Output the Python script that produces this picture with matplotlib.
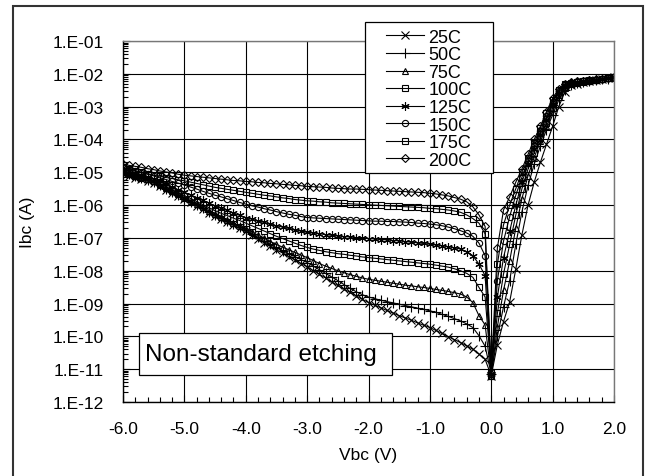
import numpy as np
import matplotlib
matplotlib.use("Agg")
import matplotlib.pyplot as plt
from matplotlib.patches import Rectangle
from matplotlib.ticker import MultipleLocator, FuncFormatter, LogLocator, NullFormatter

plt.rcParams['font.family'] = ['Liberation Sans', 'DejaVu Sans']

# voltage sweep, 0.1 V steps
vbc = np.round(np.arange(-60, 21) / 10.0, 1)

# log10(Ibc), V = -6.0 ... 2.0
log_25 = [-5.05, -5.11, -5.16, -5.22, -5.27, -5.33, -5.43, -5.53, -5.62, -5.72,
          -5.82, -5.92, -6.02, -6.13, -6.23, -6.33, -6.42, -6.52, -6.61, -6.71,
          -6.80, -6.91, -7.02, -7.14, -7.25, -7.36, -7.46, -7.57, -7.67, -7.78,
          -7.88, -8.00, -8.11, -8.22, -8.34, -8.45, -8.56, -8.66, -8.77, -8.87,
          -8.97, -9.05, -9.13, -9.21, -9.29, -9.37, -9.44, -9.51, -9.59, -9.66,
          -9.73, -9.82, -9.91, -10.01, -10.10, -10.19, -10.29, -10.39, -10.54, -10.70,
          -11.20,
          -10.25, -9.55, -8.95, -7.95, -6.90, -6.00, -5.30, -4.70, -4.15, -3.60,
          -3.00, -2.55, -2.35, -2.30, -2.26, -2.22, -2.19, -2.16, -2.14, -2.10]
log_50 = [-5.00, -5.06, -5.12, -5.18, -5.24, -5.30, -5.40, -5.50, -5.60, -5.70,
          -5.80, -5.90, -6.00, -6.10, -6.20, -6.30, -6.39, -6.48, -6.58, -6.67,
          -6.76, -6.87, -6.98, -7.08, -7.19, -7.30, -7.39, -7.48, -7.57, -7.66,
          -7.75, -7.86, -7.97, -8.08, -8.19, -8.30, -8.42, -8.54, -8.64, -8.73,
          -8.80, -8.85, -8.90, -8.94, -8.98, -9.02, -9.06, -9.10, -9.14, -9.18,
          -9.22, -9.27, -9.33, -9.39, -9.46, -9.53, -9.62, -9.73, -9.98, -10.30,
          -11.15,
          -10.00, -9.10, -8.30, -7.20, -6.20, -5.40, -4.75, -4.20, -3.70, -3.25,
          -2.80, -2.48, -2.33, -2.28, -2.25, -2.22, -2.19, -2.17, -2.15, -2.12]
log_75 = [-4.98, -5.04, -5.10, -5.16, -5.22, -5.28, -5.38, -5.48, -5.58, -5.67,
          -5.77, -5.87, -5.97, -6.07, -6.17, -6.27, -6.36, -6.45, -6.55, -6.64,
          -6.73, -6.82, -6.92, -7.01, -7.11, -7.20, -7.28, -7.36, -7.44, -7.52,
          -7.60, -7.69, -7.78, -7.86, -7.93, -8.00, -8.06, -8.12, -8.17, -8.22,
          -8.26, -8.29, -8.32, -8.35, -8.38, -8.41, -8.44, -8.46, -8.49, -8.51,
          -8.54, -8.57, -8.60, -8.63, -8.67, -8.71, -8.80, -8.97, -9.37, -9.65,
          -11.20,
          -9.70, -8.60, -7.70, -6.70, -5.80, -5.10, -4.55, -4.05, -3.60, -3.15,
          -2.72, -2.44, -2.31, -2.27, -2.24, -2.21, -2.19, -2.17, -2.14, -2.12]
log_100 = [-4.95, -5.01, -5.07, -5.13, -5.20, -5.26, -5.35, -5.44, -5.53, -5.62,
           -5.71, -5.80, -5.89, -5.99, -6.08, -6.17, -6.25, -6.32, -6.40, -6.47,
           -6.55, -6.63, -6.71, -6.79, -6.87, -6.95, -7.02, -7.09, -7.16, -7.23,
           -7.29, -7.34, -7.38, -7.42, -7.45, -7.48, -7.50, -7.53, -7.55, -7.58,
           -7.60, -7.62, -7.64, -7.66, -7.68, -7.70, -7.72, -7.74, -7.76, -7.78,
           -7.80, -7.83, -7.86, -7.89, -7.94, -8.00, -8.08, -8.20, -8.51, -8.80,
           -11.10,
           -9.30, -8.10, -7.20, -6.30, -5.50, -4.90, -4.40, -3.95, -3.50, -3.05,
           -2.65, -2.40, -2.30, -2.26, -2.23, -2.21, -2.19, -2.16, -2.14, -2.11]
log_125 = [-4.92, -4.97, -5.03, -5.09, -5.14, -5.20, -5.28, -5.36, -5.45, -5.53,
           -5.61, -5.69, -5.77, -5.86, -5.94, -6.02, -6.09, -6.16, -6.24, -6.31,
           -6.38, -6.43, -6.48, -6.53, -6.58, -6.63, -6.67, -6.71, -6.75, -6.79,
           -6.83, -6.85, -6.87, -6.90, -6.92, -6.94, -6.96, -6.97, -6.99, -7.00,
           -7.02, -7.03, -7.05, -7.06, -7.08, -7.09, -7.11, -7.13, -7.15, -7.17,
           -7.19, -7.21, -7.24, -7.27, -7.30, -7.34, -7.42, -7.54, -7.80, -8.15,
           -11.15,
           -8.80, -7.60, -6.80, -6.00, -5.30, -4.75, -4.30, -3.85, -3.40, -2.95,
           -2.58, -2.36, -2.29, -2.25, -2.23, -2.21, -2.18, -2.16, -2.14, -2.11]
log_150 = [-4.88, -4.92, -4.97, -5.02, -5.06, -5.11, -5.17, -5.22, -5.28, -5.33,
           -5.39, -5.45, -5.51, -5.58, -5.64, -5.70, -5.75, -5.81, -5.86, -5.92,
           -5.97, -6.02, -6.06, -6.11, -6.15, -6.20, -6.24, -6.28, -6.31, -6.35,
           -6.38, -6.39, -6.40, -6.41, -6.42, -6.43, -6.44, -6.45, -6.46, -6.47,
           -6.48, -6.49, -6.49, -6.50, -6.50, -6.51, -6.52, -6.53, -6.55, -6.56,
           -6.58, -6.60, -6.63, -6.67, -6.72, -6.78, -6.85, -6.95, -7.16, -7.54,
           -11.10,
           -8.30, -7.10, -6.35, -5.70, -5.15, -4.65, -4.20, -3.75, -3.30, -2.85,
           -2.52, -2.34, -2.28, -2.25, -2.22, -2.20, -2.18, -2.16, -2.13, -2.11]
log_175 = [-4.85, -4.90, -4.95, -5.00, -5.05, -5.09, -5.12, -5.16, -5.19, -5.23,
           -5.26, -5.30, -5.34, -5.38, -5.42, -5.46, -5.49, -5.52, -5.55, -5.58,
           -5.61, -5.64, -5.67, -5.70, -5.72, -5.75, -5.78, -5.80, -5.83, -5.85,
           -5.87, -5.88, -5.90, -5.91, -5.93, -5.94, -5.95, -5.96, -5.97, -5.98,
           -5.99, -6.00, -6.01, -6.02, -6.03, -6.04, -6.05, -6.06, -6.07, -6.08,
           -6.10, -6.11, -6.13, -6.15, -6.18, -6.22, -6.30, -6.41, -6.55, -6.88,
           -11.20,
           -7.80, -6.60, -6.00, -5.50, -5.00, -4.55, -4.10, -3.65, -3.20, -2.80,
           -2.50, -2.32, -2.27, -2.24, -2.22, -2.20, -2.18, -2.15, -2.13, -2.10]
log_200 = [-4.75, -4.79, -4.82, -4.85, -4.89, -4.92, -4.96, -4.99, -5.02, -5.06,
           -5.09, -5.11, -5.13, -5.15, -5.17, -5.19, -5.21, -5.23, -5.25, -5.26,
           -5.28, -5.29, -5.31, -5.32, -5.34, -5.35, -5.37, -5.38, -5.40, -5.41,
           -5.43, -5.44, -5.45, -5.46, -5.48, -5.49, -5.50, -5.51, -5.51, -5.52,
           -5.53, -5.54, -5.55, -5.56, -5.57, -5.58, -5.59, -5.60, -5.61, -5.62,
           -5.64, -5.66, -5.69, -5.72, -5.77, -5.82, -5.90, -6.05, -6.30, -6.65,
           -11.15,
           -7.30, -6.15, -5.75, -5.30, -4.90, -4.45, -4.00, -3.60, -3.15, -2.75,
           -2.45, -2.30, -2.26, -2.23, -2.21, -2.19, -2.17, -2.15, -2.13, -2.10]

labels = ["25C", "50C", "75C", "100C", "125C", "150C", "175C", "200C"]
series = [log_25, log_50, log_75, log_100, log_125, log_150, log_175, log_200]
markers = ["x", "+", "^", "s", (6, 2, 0), "o", "s", "D"]
msizes = [5.5, 6.5, 5, 4.5, 6, 4.5, 4.5, 4.5]

W, H = 645, 477
fig = plt.figure(figsize=(W / 100, H / 100), dpi=100)

def fx(px):
    return px / W

def fy(py):
    return 1 - py / H

ax = fig.add_axes([fx(123), fy(403), fx(614) - fx(123), fy(42) - fy(403)])

lines = []
for lab, logi, mk, ms in zip(labels, series, markers, msizes):
    ln, = ax.plot(vbc, 10 ** np.array(logi), color='black', lw=0.8,
                  marker=mk, ms=ms, mfc='none', mec='black', mew=0.8, label=lab)
    lines.append(ln)

ax.set_yscale('log')
ax.set_xlim(-6, 2)
ax.set_ylim(1e-12, 1e-1)
ax.yaxis.set_major_locator(LogLocator(base=10, numticks=20))
ax.yaxis.set_minor_locator(LogLocator(base=10, subs=np.arange(2, 10), numticks=200))
ax.yaxis.set_minor_formatter(NullFormatter())
ax.yaxis.set_major_formatter(FuncFormatter(lambda v, p: "1.E%+03d" % int(round(np.log10(v)))))
ax.xaxis.set_major_locator(MultipleLocator(1.0))
ax.xaxis.set_minor_locator(MultipleLocator(0.2))
ax.xaxis.set_major_formatter(FuncFormatter(lambda v, p: "%.1f" % v))

ax.grid(True, which='major', color='black', lw=0.8)
ax.tick_params(which='both', direction='in', top=False, right=False, labelsize=12.5)
ax.tick_params(which='major', length=5, width=0.8)
ax.tick_params(which='minor', length=3.5, width=0.8)
ax.tick_params(axis='y', pad=14)
ax.tick_params(axis='x', pad=14)
for s in ax.spines.values():
    s.set_linewidth(1.0)
ax.spines['top'].set_color('#777777')
ax.spines['right'].set_color('#777777')

ax.set_xlabel("Vbc (V)", fontsize=12.5)
ax.xaxis.set_label_coords(0.5, (fy(448) - fy(403)) / (fy(42) - fy(403)))
ax.set_ylabel("Ibc (A)", fontsize=12.5)
ax.yaxis.set_label_coords((fx(35) - fx(123)) / (fx(614) - fx(123)), 0.5)

# outer chart border
fig.add_artist(Rectangle((fx(13), fy(490)), fx(643) - fx(13), fy(7) - fy(490),
                         transform=fig.transFigure, fill=False, ec='#333333', lw=1.5,
                         clip_on=False, zorder=1))

# legend box
fig.add_artist(Rectangle((fx(365), fy(174)), fx(493) - fx(365), fy(23) - fy(174),
                         transform=fig.transFigure, fc='white', ec='black', lw=0.9, zorder=4))
fig.legend(handles=lines, loc='upper left', bbox_to_anchor=(fx(384), fy(28)),
           frameon=False, fontsize=13, handlelength=2.1, handletextpad=0.25,
           labelspacing=0.03, borderpad=0.1, borderaxespad=0)

# annotation box
fig.add_artist(Rectangle((fx(139), fy(376)), fx(392) - fx(139), fy(334) - fy(376),
                         transform=fig.transFigure, fc='white', ec='black', lw=0.9, zorder=4))
fig.text(fx(145), fy(355), "Non-standard etching", fontsize=17.5, ha='left', va='center', zorder=5)

fig.savefig("out.png", dpi=100)
